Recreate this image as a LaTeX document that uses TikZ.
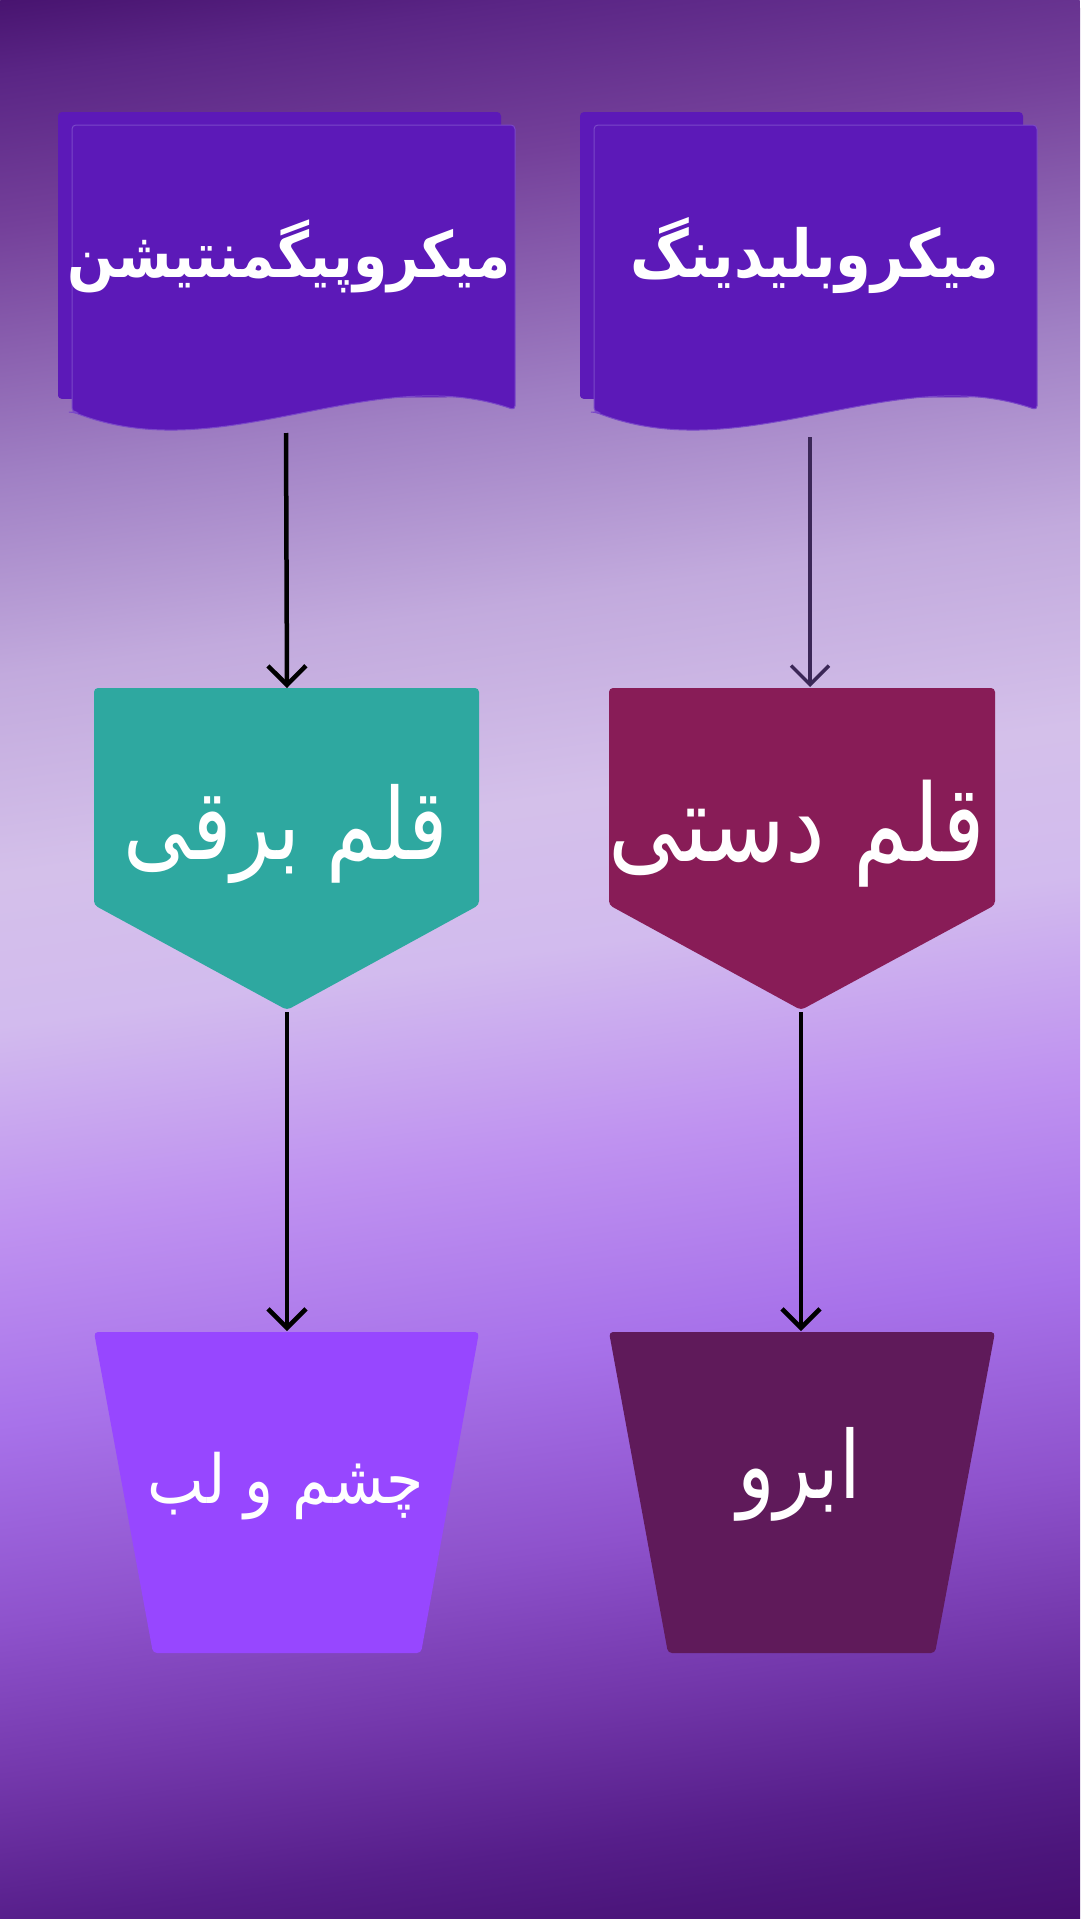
\documentclass[tikz,border=0pt]{standalone}
\usepackage{fontspec}
\usepackage{graphicx}
\usetikzlibrary{arrows.meta}
\TeXXeTstate=1
\newfontfamily\arabicfont[Script=Arabic]{DejaVu Sans}
\definecolor{bgA}{HTML}{481470}
\definecolor{bg0}{HTML}{5A2585}
\definecolor{bg1}{HTML}{74409A}
\definecolor{bg2}{HTML}{A080C4}
\definecolor{bg3}{HTML}{C2AADD}
\definecolor{bg4}{HTML}{D4C0EA}
\definecolor{bg5}{HTML}{D2BBEE}
\definecolor{bg6}{HTML}{BF92F0}
\definecolor{bg7}{HTML}{A872EA}
\definecolor{bg8}{HTML}{8E52CC}
\definecolor{bg9}{HTML}{7438AC}
\definecolor{bg10}{HTML}{561E8A}
\definecolor{bg11}{HTML}{4C167C}
\definecolor{bgZ}{HTML}{460E70}
\definecolor{docc}{HTML}{5C19B8}
\definecolor{docline}{HTML}{7A48C8}
\definecolor{tealc}{HTML}{2EA8A0}
\definecolor{maroonc}{HTML}{881C57}
\definecolor{violetc}{HTML}{9747FF}
\definecolor{plumc}{HTML}{5F1A5A}
\definecolor{arrdark}{HTML}{3B2757}
\pgfdeclareverticalshading{bgshade}{100bp}{color(0bp)=(bgZ); color(25bp)=(bgZ); color(26.85bp)=(bg11); color(28.52bp)=(bg10); color(32.14bp)=(bg9); color(35.76bp)=(bg8); color(40.6bp)=(bg7); color(45.4bp)=(bg6); color(50.24bp)=(bg5); color(53.86bp)=(bg4); color(58.7bp)=(bg3); color(63.5bp)=(bg2); color(69.55bp)=(bg1); color(73.2bp)=(bg0); color(75bp)=(bgA); color(100bp)=(bgA)}
\tikzset{
  docshape/.pic={
    \fill[docc,rounded corners=4pt] (-14,-13+287) -- (-14,-13) -- (429,-13) -- (429,272) -- (-14,274) -- cycle;
    \filldraw[fill=docc,draw=docline,line width=1pt,rounded corners=4pt]
      (0,287) -- (0,0) -- (443,0) -- (443,285) .. controls (300,235) and (150,345) .. (1,287) -- cycle;
  },
  titletext/.style={text=white,inner sep=0pt,font=\arabicfont\bfseries},
  boxtext/.style={text=white,inner sep=0pt,font=\arabicfont},
  arr/.style={line width=4.5pt,-{Straight Barb[length=19pt,width=38pt]}},
}
\begin{document}
\begin{tikzpicture}[x=1pt,y=-1pt]
\useasboundingbox (0,0) rectangle (1080,1919);
\begin{scope}
\clip (0,0) rectangle (1080,1919);
\begin{scope}[transform canvas={rotate around={8:(540,960)}}]
\shade[shading=bgshade] (-128,-65.5) rectangle (1208,1985.5);
\end{scope}
\end{scope}

% document boxes
\pic at (72,125) {docshape};
\pic at (594,125) {docshape};
\node[titletext] (t1) at (289,256) {\resizebox{443pt}{!}{\scalebox{1}[1.15]{\beginR میکروپیگمنتیشن\endR}}};
\node[titletext] (t2) at (815,256) {\resizebox{369pt}{!}{\scalebox{1}[1.15]{\beginR میکروبلیدینگ\endR}}};

% pentagons
\fill[tealc,rounded corners=4pt] (94,688) -- (479,688) -- (479,905) -- (287,1010) -- (94,905) -- cycle;
\fill[maroonc,rounded corners=4pt] (609,688) -- (995,688) -- (995,905) -- (801,1010) -- (609,905) -- cycle;
\node[boxtext] (p1) at (286,834) {\resizebox{324pt}{!}{\scalebox{1}[1.2]{\beginR قلم برقی\endR}}};
\node[boxtext] (p2) at (797,834) {\resizebox{376pt}{!}{\scalebox{1}[1.2]{\beginR قلم دستی\endR}}};

% trapezoids
\fill[violetc,rounded corners=4pt] (94,1332) -- (479,1332) -- (421,1653) -- (153,1653) -- cycle;
\fill[plumc,rounded corners=4pt] (609,1332) -- (995,1332) -- (935,1653) -- (668,1653) -- cycle;
\node[boxtext] (q1) at (286,1486) {\resizebox{276pt}{!}{\scalebox{1}[1.12]{\beginR چشم و لب\endR}}};
\node[boxtext] (q2) at (799,1474) {\resizebox{124pt}{!}{\scalebox{1}[1.2]{\beginR ابرو\endR}}};

% connector anchors
\coordinate (d1b) at (286,433);
\coordinate (d2b) at (810,437);
\coordinate (p1t) at (287,688);
\coordinate (p2t) at (810,687);
\coordinate (p1b) at (287,1012);
\coordinate (p2b) at (801,1012);
\coordinate (q1t) at (287,1331);
\coordinate (q2t) at (801,1331);

\draw[arr,black] (d1b) -- (p1t);
\draw[arr,arrdark,line width=3.5pt] (d2b) -- (p2t);
\draw[arr,black] (p1b) -- (q1t);
\draw[arr,black] (p2b) -- (q2t);
\end{tikzpicture}
\end{document}
